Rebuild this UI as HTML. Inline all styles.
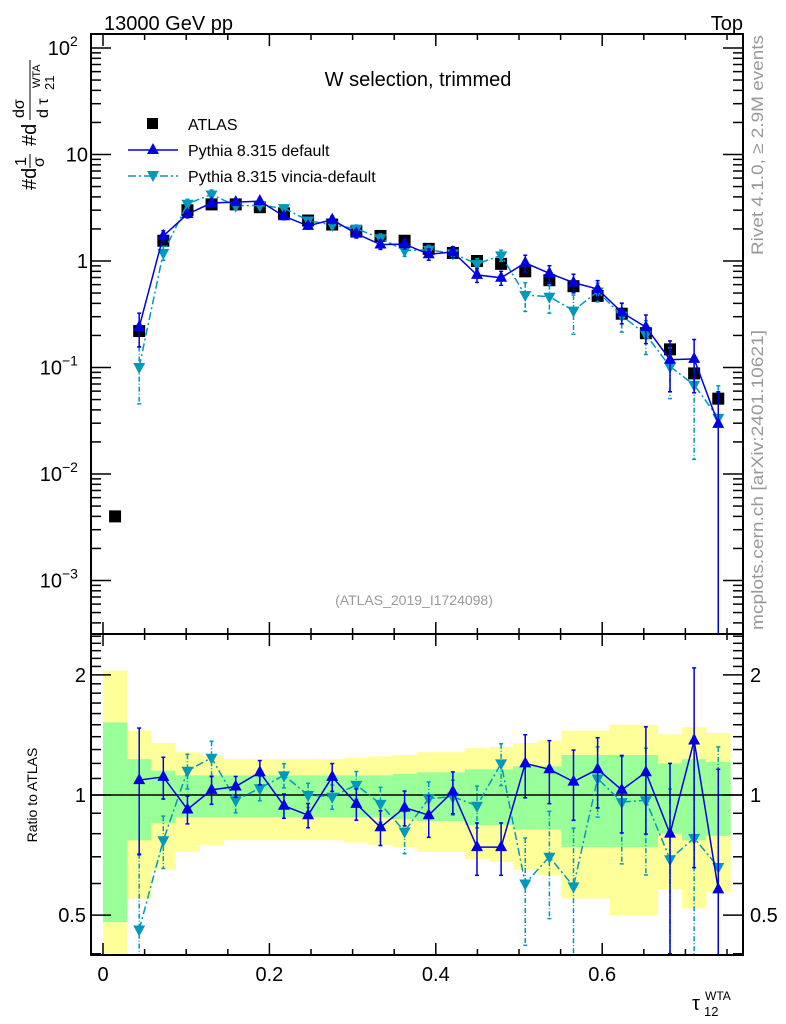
<!DOCTYPE html>
<html><head><meta charset="utf-8"><style>
html,body{margin:0;padding:0;background:#fff;}
svg{display:block;font-family:"Liberation Sans",sans-serif;}
</style></head><body>
<svg id="chart" width="786" height="1024" viewBox="0 0 786 1024" xmlns="http://www.w3.org/2000/svg">
<g id="bands"></g>
<g id="marks"></g>
<g id="axes"></g>
<text x="104" y="30" font-size="20">13000 GeV pp</text>
<text x="743" y="30" font-size="20" text-anchor="end">Top</text>
<text x="418" y="86" font-size="20" text-anchor="middle">W selection, trimmed</text>
<text x="414" y="605" font-size="14" fill="#999" text-anchor="middle">(ATLAS_2019_I1724098)</text>
<text transform="translate(763,255) rotate(-90)" font-size="17" fill="#999" textLength="220" lengthAdjust="spacingAndGlyphs">Rivet 4.1.0, ≥ 2.9M events</text>
<text transform="translate(763,630) rotate(-90)" font-size="17" fill="#999" textLength="300" lengthAdjust="spacingAndGlyphs">mcplots.cern.ch [arXiv:2401.10621]</text>
<text transform="translate(37,795) rotate(-90)" font-size="14" text-anchor="middle">Ratio to ATLAS</text>
<g transform="translate(36,190) rotate(-90)" font-size="20">
<text x="0" y="0">#d</text><text x="24" y="-10" font-size="16">1</text><line x1="22" y1="-6" x2="36" y2="-6" stroke="#000"/><text x="23" y="8" font-size="16">σ</text>
<text x="44" y="0">#d</text><text x="72" y="-12" font-size="16">dσ</text><line x1="70" y1="-6" x2="130" y2="-6" stroke="#000"/><text x="72" y="12" font-size="16">d τ</text><text x="100" y="18" font-size="13">21</text><text x="102" y="4" font-size="11">WTA</text>
</g>
<g>
<text x="692" y="1010" font-size="20">τ</text><text x="704" y="1016" font-size="13">12</text><text x="705" y="1000" font-size="12">WTA</text>
</g>
<g>
<g><rect x="147" y="118" width="11" height="11" fill="#000"/><text x="188" y="130" font-size="16">ATLAS</text></g>
<g><line x1="128" y1="150" x2="178" y2="150" stroke="#0000e0" stroke-width="1.5"/><polygon points="153,143 159,154 147,154" fill="#0000e0"/><text x="188" y="156" font-size="16">Pythia 8.315 default</text></g>
<g><line x1="128" y1="176" x2="178" y2="176" stroke="#0099bb" stroke-width="1.5" stroke-dasharray="8,3,2,3"/><polygon points="147,171 159,171 153,182" fill="#0099bb"/><text x="188" y="182" font-size="16">Pythia 8.315 vincia-default</text></g>
</g>
</svg>
<script>
const binWidth = 0.029;
const atlasValues = [0.004,0.22,1.55,3.0,3.4,3.4,3.2,2.8,2.4,2.2,1.9,1.72,1.55,1.3,1.19,1.0,0.94,0.8,0.66,0.58,0.47,0.32,0.21,0.148,0.088,0.051];
const atlasErr = [0.03,0.05,0.04,0.03,0.03,0.03,0.03,0.03,0.03,0.03,0.03,0.03,0.03,0.03,0.04,0.04,0.04,0.05,0.05,0.05,0.06,0.06,0.06,0.07,0.08,0.1];
const statErr = [0.52,0.23,0.15,0.12,0.12,0.12,0.12,0.12,0.12,0.12,0.12,0.12,0.13,0.14,0.14,0.16,0.16,0.18,0.18,0.26,0.26,0.26,0.26,0.2,0.23,0.21];
const totErr = [1.05,0.45,0.35,0.28,0.25,0.23,0.23,0.23,0.23,0.23,0.24,0.25,0.26,0.28,0.28,0.31,0.32,0.35,0.37,0.45,0.45,0.5,0.5,0.42,0.48,0.43];
const defaultRatio = [1.09,1.11,0.92,1.03,1.05,1.14,0.94,0.89,1.11,0.95,0.83,0.93,0.89,1.02,0.74,0.74,1.20,1.16,1.08,1.16,1.03,1.14,0.80,1.37,0.58];
const defaultErr = [0.35,0.12,0.08,0.08,0.06,0.07,0.07,0.07,0.08,0.09,0.1,0.1,0.12,0.12,0.15,0.15,0.18,0.18,0.2,0.2,0.22,0.3,0.5,0.52,1.0];
const vinciaRatio = [0.46,0.77,1.15,1.24,0.97,1.04,1.12,1.0,0.99,1.06,0.95,0.81,0.98,0.99,0.94,1.20,0.60,0.70,0.59,1.10,0.96,0.97,0.69,0.78,0.66];
const vinciaErr = [0.55,0.15,0.1,0.1,0.07,0.07,0.07,0.07,0.07,0.08,0.1,0.12,0.1,0.1,0.12,0.12,0.3,0.3,0.4,0.2,0.3,0.35,0.5,0.8,1.0];
const xTickLabels = ["0","0.2","0.4","0.6"];
const ratioTickLabels = ["0.5","1","2"];

const NS="http://www.w3.org/2000/svg";
const L=91,R=743,MT=34,MB=634,RT=634,RB=955;
const X=v=>103+832*v;
const Y=v=>48+(2-Math.log10(v))*106.5;
const YR=v=>795-Math.log10(v)*399;
const clampM=y=>Math.max(MT,Math.min(MB,y));
const clampR=y=>Math.max(RT,Math.min(RB,y));
function mk(parent,tag,attrs){const e=document.createElementNS(NS,tag);for(const k in attrs)e.setAttribute(k,attrs[k]);parent.appendChild(e);return e;}
const bands=document.getElementById('bands'),marks=document.getElementById('marks'),axes=document.getElementById('axes');

atlasValues.forEach((v,i)=>{
  const x0=X(i*binWidth),x1=X((i+1)*binWidth);
  const yt=clampR(YR(1+totErr[i])),yb=clampR(1-totErr[i]>0?YR(1-totErr[i]):RB);
  let r=mk(bands,'rect',{x:x0,y:yt,width:x1-x0+0.3,height:yb-yt,fill:'#ffff99'});
  
  
  const gt=clampR(YR(1+statErr[i])),gb=clampR(1-statErr[i]>0?YR(1-statErr[i]):RB);
  r=mk(bands,'rect',{x:x0,y:gt,width:x1-x0+0.3,height:gb-gt,fill:'#99ff99'});
  
  
});
let l1=mk(bands,'line',{x1:L,x2:R,y1:YR(1),y2:YR(1),stroke:'#000','stroke-width':1.5});



const cx=i=>X((i+0.5)*binWidth);
atlasValues.forEach((v,i)=>{
  const x=cx(i),y=Y(v);
  const e=mk(marks,'line',{x1:x,x2:x,y1:clampM(Y(v*(1+atlasErr[i]))),y2:clampM(Y(v*(1-atlasErr[i]))),stroke:'#000','stroke-width':1.5});
  
  
  const r=mk(marks,'rect',{x:x-6,y:y-6,width:12,height:12,fill:'#000'});
  
  
});
function series(ratio,err,color,dash,up,name){
  const ptsM=[],ptsR=[];
  ratio.forEach((r,j)=>{const i=j+1;const x=cx(i);ptsM.push([x,Y(atlasValues[i]*r)]);ptsR.push([x,YR(r)]);});
  [[ptsM,true],[ptsR,false]].forEach(([pts,main])=>{
    const p=mk(marks,'polyline',{points:pts.map(q=>q.join(',')).join(' '),fill:'none',stroke:color,'stroke-width':1.5});
    if(dash)p.setAttribute('stroke-dasharray',dash);
    
    
    ratio.forEach((r,j)=>{
      const i=j+1,x=pts[j][0];
      const base=main?atlasValues[i]*r:r;
      const f=main?Y:YR,cl=main?clampM:clampR,bot=main?MB:RB;
      const yt=cl(f(base*(1+err[j]))),yb=cl(1-err[j]>0.001?f(base*(1-err[j])):bot);
      const e=mk(marks,'line',{x1:x,x2:x,y1:yt,y2:yb,stroke:color,'stroke-width':1.5});
      if(dash)e.setAttribute('stroke-dasharray','5,2,1,2');
      
      
      [yt,yb].forEach(yy=>{if(yy>(main?MT:RT)&&yy<bot){const c=mk(marks,'line',{x1:x-2,x2:x+2,y1:yy,y2:yy,stroke:color,'stroke-width':1.5});}});
      const y=pts[j][1];
      if(y>=(main?MT:RT)&&y<=bot){
        const pp=up?`${x},${y-7} ${x+6},${y+4} ${x-6},${y+4}`:`${x-6},${y-4} ${x+6},${y-4} ${x},${y+7}`;
        const m=mk(marks,'polygon',{points:pp,fill:color});
        
        
      }
    });
  });
}
series(vinciaRatio,vinciaErr,'#0099bb','8,3,2,3',false,'vincia');
series(defaultRatio,defaultErr,'#0000e0',null,true,'pythia-default');

[[MT,MB,'main-frame'],[RT,RB,'ratio-frame']].forEach(([t,b,n])=>{
  const r=mk(axes,'rect',{x:L,y:t,width:R-L,height:b-t,fill:'none',stroke:'#000','stroke-width':2});
  
  
});
for(let k=0;k<=15;k++){
  const v=k*0.05,x=X(v);if(x>R)break;
  const len=(k%4===0)?12:6;
  [MT,RT].forEach(t=>mk(axes,'line',{x1:x,x2:x,y1:t,y2:t+len,stroke:'#000','stroke-width':1.5}));
  [MB,RB].forEach(b=>mk(axes,'line',{x1:x,x2:x,y1:b,y2:b-len,stroke:'#000','stroke-width':1.5}));
}
xTickLabels.forEach((s,i)=>{
  const t=mk(axes,'text',{x:X(i*0.2),y:981,'font-size':20,'text-anchor':'middle'});t.textContent=s;
  
  
});
for(let d=-4;d<=2;d++){
  for(let m=1;m<10;m++){
    const v=m*Math.pow(10,d),y=Y(v);if(y<MT||y>MB)continue;
    const len=m===1?20:10;
    mk(axes,'line',{x1:L,x2:L+len,y1:y,y2:y,stroke:'#000','stroke-width':1.5});
    mk(axes,'line',{x1:R,x2:R-len,y1:y,y2:y,stroke:'#000','stroke-width':1.5});
  }
}
const decLabels=[[2,'10','2'],[1,'10',''],[0,'1',''],[-1,'10','−1'],[-2,'10','−2'],[-3,'10','−3']];
decLabels.forEach(([d,b,e])=>{
  const y=Y(Math.pow(10,d))+7;
  const t=mk(axes,'text',{x:e?(e.length>1?62:70):88,y:y,'font-size':20,'text-anchor':'end'});
  t.textContent=b;
  
  
  if(e){const s=mk(axes,'text',{x:e.length>1?62:70,y:y-9,'font-size':14});s.textContent=e;}
});
[0.4,0.5,0.6,0.7,0.8,0.9,1,1.1,1.2,1.3,1.4,1.5,1.6,1.7,1.8,1.9,2,2.1,2.2,2.3,2.4,2.5].forEach(v=>{
  const y=YR(v);if(y<RT||y>RB)return;
  const major=(Math.abs(v-0.5)<1e-6||Math.abs(v-1)<1e-6||Math.abs(v-2)<1e-6);
  const len=major?20:10;
  mk(axes,'line',{x1:L,x2:L+len,y1:y,y2:y,stroke:'#000','stroke-width':1.5});
  mk(axes,'line',{x1:R,x2:R-len,y1:y,y2:y,stroke:'#000','stroke-width':1.5});
});
ratioTickLabels.forEach(s=>{
  const y=YR(parseFloat(s))+7;
  let t=mk(axes,'text',{x:86,y:y,'font-size':20,'text-anchor':'end'});t.textContent=s;
  
  
  t=mk(axes,'text',{x:750,y:y,'font-size':20});t.textContent=s;
  
  
});
</script>
</body></html>
